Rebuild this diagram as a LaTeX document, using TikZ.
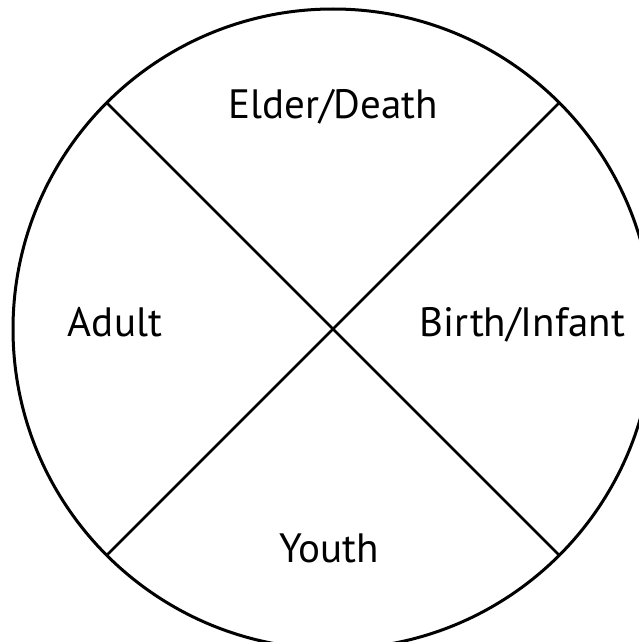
\documentclass[tikz,border=0pt]{standalone}
\usepackage{fontspec}
\setmainfont{PT Sans}
\usetikzlibrary{calc}
\begin{document}
\begin{tikzpicture}[x=1pt,y=-1pt,
  ring/.style={draw=black,line width=3pt},
  divider/.style={draw=black,line width=2.7pt},
  lbl/.style={anchor=base,inner sep=0pt,font=\fontsize{41}{48}\selectfont}]
\useasboundingbox (0,0) rectangle (639,642);
\clip (0,0) rectangle (639,642);
\coordinate (c) at (333,329);
\draw[ring] (c) circle (320);
\coordinate (ul) at ($(c)+(-226.3,-226.3)$);
\coordinate (ur) at ($(c)+(226.3,-226.3)$);
\coordinate (ll) at ($(c)+(-226.3,226.3)$);
\coordinate (lr) at ($(c)+(226.3,226.3)$);
\draw[divider] (ul) -- (lr);
\draw[divider] (ur) -- (ll);
\node[lbl] (elder) at (333.5,118) {Elder/Death};
\node[lbl] (adult) at (115,336) {Adult};
\node[lbl] (birth) at (522.5,336) {Birth/Infant};
\node[lbl] (youth) at (329,562) {Youth};
\end{tikzpicture}
\end{document}
